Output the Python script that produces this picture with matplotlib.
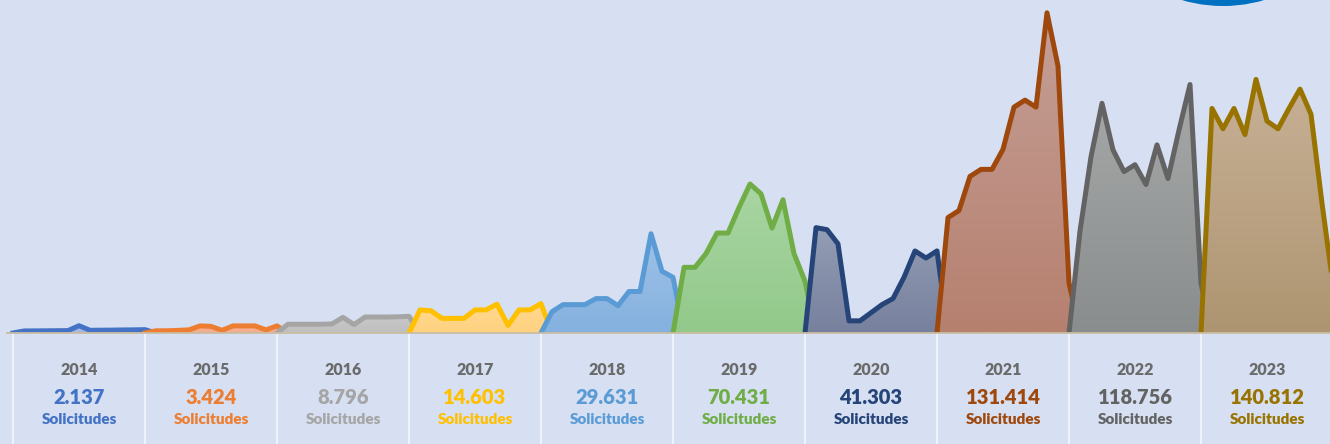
import numpy as np
import matplotlib
matplotlib.use('Agg')
import matplotlib.pyplot as plt
from matplotlib.patches import Polygon, Ellipse
from matplotlib.lines import Line2D
from matplotlib.colors import LinearSegmentedColormap

plt.rcParams['font.family'] = ['Lato', 'DejaVu Sans']

years = ['2014', '2015', '2016', '2017', '2018', '2019', '2020', '2021', '2022', '2023']
totals = ['2.137', '3.424', '8.796', '14.603', '29.631', '70.431', '41.303', '131.414', '118.756', '140.812']

# solicitudes por mes (ene-dic)
s2014 = [120, 125, 130, 135, 140, 430, 160, 165, 170, 180, 185, 197]
s2015 = [131, 131, 157, 183, 418, 392, 157, 418, 418, 418, 183, 418]
s2016 = [517, 517, 517, 517, 535, 925, 499, 943, 943, 943, 955, 985]
s2017 = [1363, 1313, 863, 863, 863, 1363, 1363, 1700, 450, 1363, 1363, 1736]
s2018 = [1255, 1673, 1673, 1673, 2031, 2031, 1613, 2449, 2449, 5854, 3644, 3286]
s2019 = [3875, 3875, 4684, 5899, 5899, 7402, 8790, 8212, 6188, 7865, 4684, 3058]
s2020 = [6216, 6097, 5260, 717, 717, 1195, 1674, 2032, 3287, 4841, 4423, 4844]
s2021 = [6811, 7225, 9239, 9653, 9653, 10838, 13325, 13740, 13325, 18892, 15753, 2960]
s2022 = [6016, 10397, 13551, 10806, 9521, 9930, 8762, 11098, 9112, 11974, 14661, 2928]
s2023 = [13248, 12048, 13248, 11706, 14961, 12505, 12048, 13248, 14390, 12905, 7652, 2853]
monthly = [s2014, s2015, s2016, s2017, s2018, s2019, s2020, s2021, s2022, s2023]

line_colors = ['#4472c4', '#ed7d31', '#a5a5a5', '#ffc000', '#5b9bd5',
               '#70ad47', '#264478', '#9e480e', '#636363', '#997300']
fill_top = ['#aabde3', '#f8b79c', '#c8c8c8', '#ffd88e', '#a0c2e7',
            '#a9d5a3', '#939db4', '#c59f96', '#a7a9a9', '#c7b096']
fill_bottom = ['#a3b6dd', '#f4aa8c', '#bfbfbf', '#ffd281', '#84b1df',
               '#92c98a', '#77809d', '#b6806f', '#8a8d8d', '#ae9571']

bg = '#d6e0f2'

fig = plt.figure(figsize=(13.3, 4.44), dpi=100, facecolor=bg)
ax = fig.add_axes([0, 0.25, 1, 0.75])
ax.set_facecolor(bg)

for i, vals in enumerate(monthly):
    xs = np.arange(12 * i, 12 * i + 14)
    ys = np.concatenate([[0], vals, [0]])
    patch = Polygon(np.column_stack([xs, ys]), closed=True, facecolor='none',
                    edgecolor='none')
    ax.add_patch(patch)
    cmap = LinearSegmentedColormap.from_list('g%d' % i, [fill_bottom[i], fill_top[i]])
    grad = np.linspace(0, 1, 256).reshape(-1, 1)
    im = ax.imshow(grad, extent=(xs[0], xs[-1], 0, max(vals)), origin='lower',
                   aspect='auto', cmap=cmap, zorder=2 + 2 * i, interpolation='bilinear')
    im.set_clip_path(patch)
    ax.plot(xs, ys, color=line_colors[i], lw=3.6, solid_joinstyle='round',
            zorder=3 + 2 * i)

ax.set_xlim(-13 / 11, (1330 - 13) / 11)
ax.set_ylim(0, 333 * 59)
ax.axis('off')

ax2 = fig.add_axes([0, 0, 1, 0.25])
ax2.set_facecolor(bg)
ax2.set_xlim(-13 / 11, (1330 - 13) / 11)
ax2.set_ylim(111, 0)
ax2.axis('off')

for i, yr in enumerate(years):
    ax2.plot([12 * i, 12 * i], [1, 111], color='#f2f5fb', lw=1.3)
    cx = 12 * i + 6
    ax2.text(cx, 42, yr, ha='center', va='baseline', fontsize=11.5,
             fontweight='heavy', color='#6b6b6b')
    ax2.text(cx, 71, totals[i], ha='center', va='baseline', fontsize=14.5,
             fontweight='heavy', color=line_colors[i])
    ax2.text(cx, 90.5, 'Solicitudes', ha='center', va='baseline', fontsize=11,
             fontweight='heavy', color=line_colors[i])

fig.add_artist(Line2D([7 / 1330, 1], [0.25, 0.25], color='#c9bda3', lw=1.3,
                      transform=fig.transFigure))
fig.add_artist(Ellipse((1223 / 1330, 1 + 140.5 / 444), 2 * 146.5 / 1330,
                       2 * 146.5 / 444, transform=fig.transFigure,
                       facecolor='#0070c0', edgecolor='none'))

fig.savefig('out.png', dpi=100, facecolor=bg)
